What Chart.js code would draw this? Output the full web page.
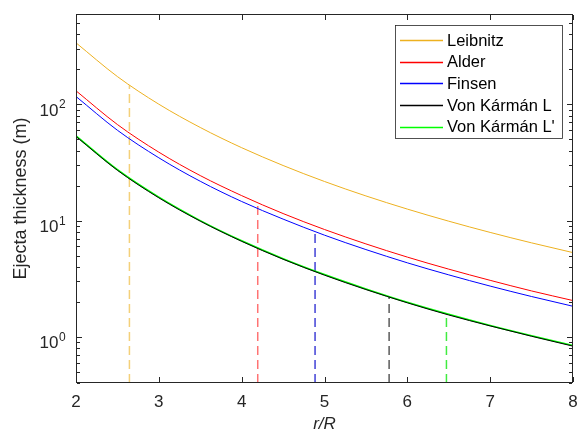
<!DOCTYPE html>
<html lang="en">
<head>
    <meta charset="UTF-8">
    <title>Ejecta thickness vs r/R</title>
    <script src="https://cdn.jsdelivr.net/npm/chart.js"></script>
    <style>
        html, body { margin: 0; padding: 0; background: #fff; }
        #chart-container { width: 579px; height: 434px; }
        canvas { display: block; }
    </style>
</head>
<body>
    <div id="chart-container">
        <canvas id="myChart" width="579" height="434"></canvas>
    </div>

    <script>
        // r/R sample positions
        const rValues = [2, 2.5, 3, 3.5, 4, 4.5, 5, 5.5, 6, 6.5, 7, 7.5, 8];

        // ejecta thickness (m)
        const leibnitz = [339, 173.6, 100.4, 63.3, 42.4, 29.8, 21.7, 16.3, 12.56, 9.88, 7.91, 6.43, 5.30];
        const alder    = [131, 67.1, 38.8, 24.4, 16.4, 11.5, 8.38, 6.30, 4.85, 3.82, 3.06, 2.48, 2.05];
        const finsen   = [117, 59.9, 34.7, 21.8, 14.6, 10.3, 7.49, 5.63, 4.33, 3.41, 2.73, 2.22, 1.83];
        const vonKarmanL  = [53.0, 27.1, 15.7, 9.89, 6.63, 4.65, 3.39, 2.55, 1.96, 1.54, 1.24, 1.01, 0.83];
        const vonKarmanL2 = [53.6, 27.4, 15.9, 10.0, 6.70, 4.70, 3.43, 2.58, 1.98, 1.56, 1.25, 1.02, 0.84];

        const seriesNames = ['Leibnitz', 'Alder', 'Finsen', 'Von Kármán L', "Von Kármán L'"];
        const seriesColors = ['#EDB120', '#FF0000', '#0000FF', '#000000', '#00FF00'];
        const seriesWidths = [1, 1, 1, 1, 1.6];
        const dashColors = ['rgba(237,177,32,0.6)', 'rgba(255,0,0,0.55)', 'rgba(0,0,200,0.75)', 'rgba(0,0,0,0.65)', 'rgba(0,230,0,0.75)'];

        // vertical dashed markers: position and the thickness where they meet the curve
        const markerR   = [2.645, 4.194, 4.886, 5.78, 6.472];
        const markerTop = [146, 14.2, 8.03, 2.20, 1.57];

        const xTicks = [2, 3, 4, 5, 6, 7, 8];
        const yMajor = [1, 10, 100];
        const yMin = 0.4, yMax = 600;

        const allSeries = [leibnitz, alder, finsen, vonKarmanL, vonKarmanL2];
        const datasets = [];
        allSeries.forEach((vals, i) => {
            datasets.push({
                label: seriesNames[i],
                data: rValues.map((r, j) => ({ x: r, y: vals[j] })),
                borderColor: seriesColors[i],
                borderWidth: seriesWidths[i],
                pointRadius: 0,
                showLine: true,
                cubicInterpolationMode: 'monotone'
            });
        });
        markerR.forEach((r, i) => {
            datasets.push({
                label: 'marker' + i,
                data: [{ x: r, y: yMin }, { x: r, y: markerTop[i] }],
                borderColor: dashColors[i],
                borderWidth: 1.5,
                borderDash: [9, 5],
                pointRadius: 0,
                showLine: true
            });
        });

        const axisColor = '#262626';
        const fontFamily = '"Liberation Sans", Arial, Helvetica, sans-serif';

        // MATLAB-like box, inward ticks, y labels with exponent, and legend
        const decorations = {
            id: 'decorations',
            afterDraw(chart) {
                const ctx = chart.ctx;
                const a = chart.chartArea;
                const xs = chart.scales.x, ys = chart.scales.y;
                const L = Math.round(a.left), R = Math.round(a.right) - 1;
                const T = Math.round(a.top), B = Math.round(a.bottom) - 1;
                ctx.save();
                ctx.fillStyle = axisColor;
                // box as 1px filled bars
                ctx.fillRect(L, T, R - L + 1, 1);
                ctx.fillRect(L, B, R - L + 1, 1);
                ctx.fillRect(L, T, 1, B - T + 1);
                ctx.fillRect(R, T, 1, B - T + 1);
                // x ticks, bottom and top
                xTicks.forEach(v => {
                    const px = Math.round(xs.getPixelForValue(v));
                    ctx.fillRect(px, B - 5, 1, 5);
                    ctx.fillRect(px, T + 1, 1, 5);
                });
                // y ticks, major and minor
                for (let d = 0.1; d <= 100; d *= 10) {
                    for (let m = 1; m <= 9; m++) {
                        const v = d * m;
                        if (v < yMin - 1e-9 || v > yMax + 1e-9) continue;
                        const py = Math.round(ys.getPixelForValue(v));
                        const len = (m === 1) ? 5 : 3;
                        ctx.fillRect(L + 1, py, len, 1);
                        ctx.fillRect(R - len, py, len, 1);
                    }
                }

                // y tick labels 10^n
                yMajor.forEach(v => {
                    const py = ys.getPixelForValue(v);
                    const exp = String(Math.round(Math.log10(v)));
                    ctx.font = '17px ' + fontFamily;
                    ctx.textAlign = 'right';
                    ctx.textBaseline = 'alphabetic';
                    ctx.fillText('10', 58.5, py + 11.5);
                    ctx.font = '12px ' + fontFamily;
                    ctx.textAlign = 'left';
                    ctx.fillText(exp, 59, py + 4);
                });

                // legend box
                const lx = 395, ly = 25, lw = 167, lh = 113;
                ctx.fillStyle = '#fff';
                ctx.fillRect(lx, ly, lw, lh);
                ctx.strokeStyle = axisColor;
                ctx.lineWidth = 0.8;
                ctx.strokeRect(lx + 0.5, ly + 0.5, lw, lh);
                ctx.font = '16.5px ' + fontFamily;
                ctx.textAlign = 'left';
                ctx.textBaseline = 'middle';
                seriesNames.forEach((name, i) => {
                    const cy = 40 + i * 21.7;
                    ctx.strokeStyle = seriesColors[i];
                    ctx.lineWidth = 1.3;
                    ctx.beginPath();
                    ctx.moveTo(400, Math.round(cy) + 0.5);
                    ctx.lineTo(443, Math.round(cy) + 0.5);
                    ctx.stroke();
                    ctx.fillStyle = '#000';
                    ctx.fillText(name, 447, cy + 1);
                });
                ctx.restore();
            }
        };

        const ctx = document.getElementById('myChart').getContext('2d');
        new Chart(ctx, {
            type: 'scatter',
            data: { datasets: datasets },
            options: {
                responsive: false,
                animation: false,
                devicePixelRatio: 1,
                layout: { padding: { top: 14, right: 6, left: 0, bottom: 0 } },
                plugins: {
                    legend: { display: false },
                    tooltip: { enabled: false }
                },
                scales: {
                    x: {
                        type: 'linear',
                        min: 2,
                        max: 8,
                        afterBuildTicks: scale => { scale.ticks = xTicks.map(v => ({ value: v })); },
                        afterFit: scale => {
                            scale.height = 51;
                            scale.paddingLeft = 0;
                            scale.paddingRight = 0;
                        },
                        grid: { display: false, drawTicks: false },
                        border: { display: false },
                        ticks: {
                            color: axisColor,
                            padding: 9,
                            font: { family: fontFamily, size: 17 }
                        },
                        title: {
                            display: true,
                            text: 'r/R',
                            color: axisColor,
                            padding: { top: 0, bottom: 0 },
                            font: { family: fontFamily, size: 17, style: 'italic' }
                        }
                    },
                    y: {
                        type: 'logarithmic',
                        min: yMin,
                        max: yMax,
                        afterFit: scale => {
                            scale.width = 76;
                            scale.paddingTop = 0;
                            scale.paddingBottom = 0;
                        },
                        grid: { display: false, drawTicks: false },
                        border: { display: false },
                        ticks: { display: false },
                        title: {
                            display: true,
                            text: 'Ejecta thickness (m)',
                            color: axisColor,
                            padding: { top: 10, bottom: 0 },
                            font: { family: fontFamily, size: 18 }
                        }
                    }
                }
            },
            plugins: [decorations]
        });
    </script>
</body>
</html>
